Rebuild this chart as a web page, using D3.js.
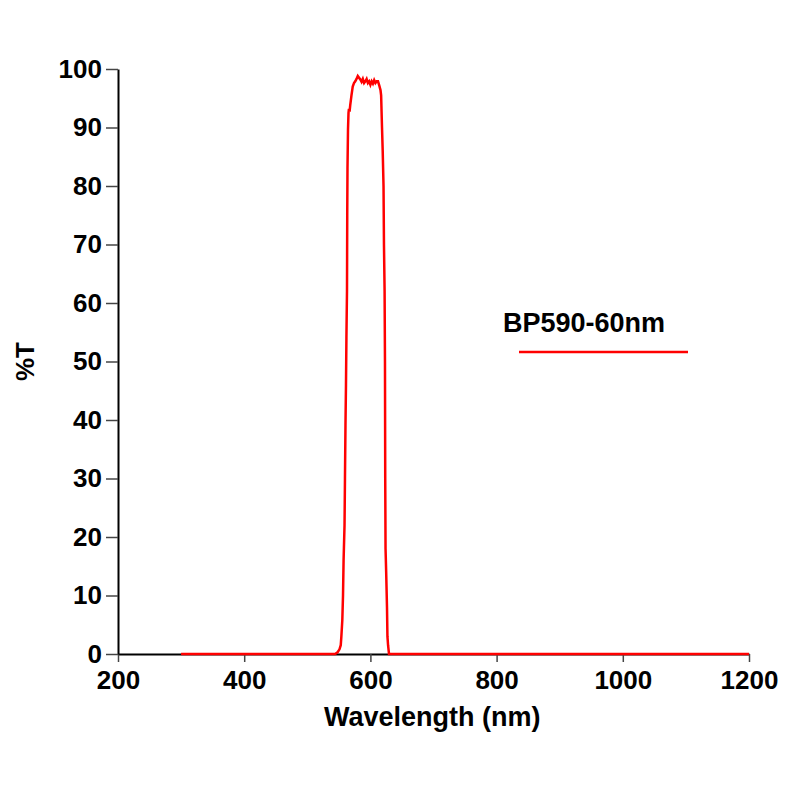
<!DOCTYPE html>
<html>
<head>
<meta charset="utf-8">
<script src="https://cdn.jsdelivr.net/npm/d3@7"></script>
<style>
  body { margin: 0; background: #fff; }
  text { font-family: "Liberation Sans", Arial, sans-serif; font-weight: bold; }
</style>
</head>
<body>
<div id="chart"></div>
<script>
// transmission curve
const wavelength = [300, 540, 544, 548, 551, 553, 554, 555.5, 556.6, 557.5, 559, 559.7, 560.5, 561.3, 562,
  562.9, 563.3, 563.7, 564.5, 565.3, 566, 567, 568, 570, 572, 574, 576, 578, 580, 582, 584, 586, 588,
  590, 592, 594, 596, 598, 600, 602, 604, 606, 608, 610, 612, 614, 616, 617, 618.4, 619.5, 620.8,
  621.5, 622.5, 623.1, 623.5, 624, 625, 626.3, 627, 628, 629.5, 1200];
const transmission = [0, 0, 0, 0.3, 0.8, 1.5, 3, 5.8, 10, 16, 22, 30, 39, 46, 54,
  62, 75, 83, 89.6, 92.5, 93.2, 92.7, 93.8, 95.5, 97, 97.6, 97.9, 98.3, 98.8, 98.5, 98.2, 97.8, 98.3,
  97.6, 97.9, 98.3, 97.6, 97.9, 97.3, 97.9, 97.5, 98.1, 97.6, 97.9, 97.9, 97.2, 96.4, 95.5, 90, 86, 80,
  70, 62, 50, 30, 18, 14, 8, 3, 1.5, 0, 0];
const xTicks = [200, 400, 600, 800, 1000, 1200];
const yTicks = [0, 10, 20, 30, 40, 50, 60, 70, 80, 90, 100];
const seriesName = "BP590-60nm";

const width = 800, height = 800;
const margins = { top: 69, bottom: 146, left: 118, right: 51 };

const svg = d3.select("#chart").append("svg")
  .attr("width", width)
  .attr("height", height);

const xScale = d3.scaleLinear()
  .domain([200, 1200])
  .range([margins.left, width - margins.right]);
const yScale = d3.scaleLinear()
  .domain([0, 100])
  .range([height - margins.bottom, margins.top]);

const xAxis = d3.axisBottom(xScale).tickValues(xTicks).tickFormat(d3.format("d"))
  .tickSize(8).tickSizeOuter(0).tickPadding(6);
const yAxis = d3.axisLeft(yScale).tickValues(yTicks).tickFormat(d3.format("d"))
  .tickSize(12).tickSizeOuter(0).tickPadding(4);

const gx = svg.append("g")
  .attr("transform", `translate(0,${yScale(0)})`)
  .call(xAxis);
const gy = svg.append("g")
  .attr("transform", `translate(${margins.left},0)`)
  .call(yAxis);

[gx, gy].forEach((g) => {
  g.select(".domain").attr("stroke", "#000").attr("stroke-width", 2);
  g.selectAll(".tick line").attr("stroke", "#444").attr("stroke-width", 1.5);
  g.selectAll(".tick text").attr("fill", "#000").style("font-size", "26px");
});
gx.selectAll(".tick text").attr("dy", "0.8em");

// axis titles
svg.append("text")
  .attr("x", xScale(698))
  .attr("y", 726)
  .attr("text-anchor", "middle")
  .style("font-size", "27px")
  .text("Wavelength (nm)");

svg.append("text")
  .attr("transform", `translate(34,${yScale(50)}) rotate(-90)`)
  .attr("text-anchor", "middle")
  .style("font-size", "26px")
  .text("%T");

// curve
const data = wavelength.map((w, i) => ({ w: w, t: transmission[i] }));
const line = d3.line()
  .x((d) => xScale(d.w))
  .y((d) => yScale(d.t));

svg.append("path")
  .datum(data)
  .attr("fill", "none")
  .attr("stroke", "#ff0000")
  .attr("stroke-width", 2.5)
  .attr("d", line);

// legend
svg.append("text")
  .attr("x", 503)
  .attr("y", 332)
  .style("font-size", "27px")
  .text(seriesName);
svg.append("line")
  .attr("x1", 519)
  .attr("x2", 688)
  .attr("y1", 352)
  .attr("y2", 352)
  .attr("stroke", "#ff0000")
  .attr("stroke-width", 2.5);
</script>
</body>
</html>
